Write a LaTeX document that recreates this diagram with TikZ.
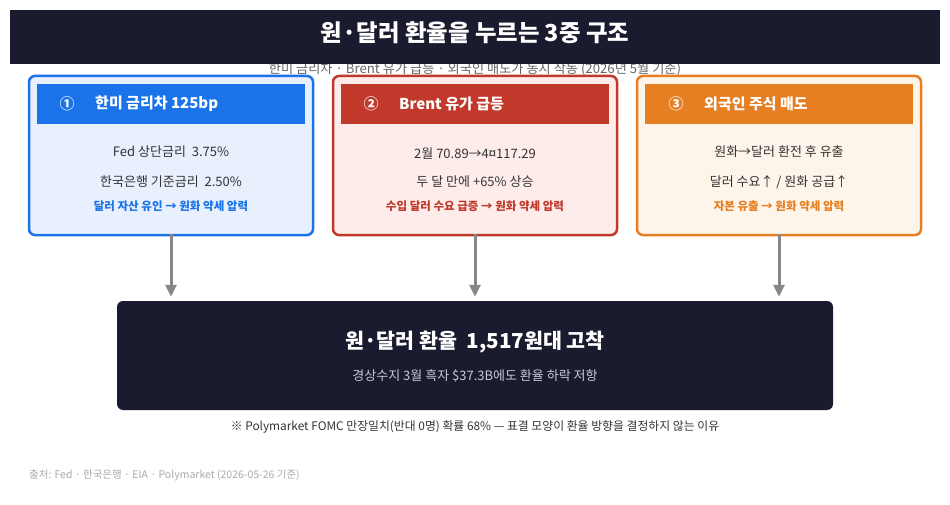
\documentclass[tikz,border=0pt]{standalone}
\usepackage{fontspec}
\setmainfont{Noto Sans CJK KR}
\usetikzlibrary{arrows.meta}
\definecolor{navy}{HTML}{1B1B2F}
\definecolor{cblue}{HTML}{1A73E8}
\definecolor{bgblue}{HTML}{E8F0FE}
\definecolor{cred}{HTML}{C0392B}
\definecolor{bgred}{HTML}{FDECEA}
\definecolor{corange}{HTML}{E67E22}
\definecolor{bgorange}{HTML}{FEF5EA}
\definecolor{bodytxt}{HTML}{333333}
\definecolor{subtxt}{HTML}{666666}
\definecolor{srctxt}{HTML}{AAAAAA}
\definecolor{arrowgray}{HTML}{888888}
\definecolor{mainsub}{HTML}{C8C9D6}
\newcommand{\fsz}[1]{\fontsize{#1pt}{#1pt}\selectfont}
\tikzset{
  panel/.style={line width=2.5pt, rounded corners=6pt, minimum width=284pt, minimum height=159pt, inner sep=0pt},
  headband/.style={minimum width=268pt, minimum height=40pt, inner sep=0pt},
  headnum/.style={text=white, font=\fsz{15}\bfseries, inner sep=0pt},
  headtitle/.style={text=white, font=\fsz{15}\bfseries, anchor=west, inner sep=0pt},
  bodyline/.style={text=bodytxt, font=\fsz{13}, inner sep=0pt},
  keyline/.style={font=\fsz{11.5}\bfseries, inner sep=0pt},
  flowarrow/.style={draw=arrowgray, line width=3pt, -{Triangle[length=12pt,width=11pt]}, shorten >=4pt, shorten <=-2pt}
}
\begin{document}
\begin{tikzpicture}[x=1pt,y=-1pt]
\useasboundingbox (0,0) rectangle (950,505);
\fill[white] (0,0) rectangle (950,505);

% subtitle (partly covered by title bar)
\node (subtitle) [text=subtxt, font=\fsz{13.2}, inner sep=0pt] at (475,69) {한미 금리차 · Brent 유가 급등 · 외국인 매도가 동시 작동 (2026년 5월 기준)};
\node (titlebar) [fill=navy, minimum width=930pt, minimum height=54pt, inner sep=0pt] at (475,37) {};
\node (title) [text=white, font=\fsz{23.4}\bfseries, inner sep=0pt] at (475,33) {원·달러 환율을 누르는 3중 구조};

% panel 1
\node (box1) [panel, draw=cblue, fill=bgblue] at (171,155.5) {};
\node (h1) [headband, fill=cblue] at (171,104) {};
\node (n1) [headnum] at (67,104) {①};
\node (t1) [headtitle] at (95,104) {한미 금리차 125bp};
\node (b1a) [bodyline] at (171,152) {Fed 상단금리\ \ 3.75\%};
\node (b1b) [bodyline] at (171,182) {한국은행 기준금리\ \ 2.50\%};
\node (k1) [keyline, text=cblue] at (171,206) {달러 자산 유인 → 원화 약세 압력};

% panel 2
\node (box2) [panel, draw=cred, fill=bgred] at (475,155.5) {};
\node (h2) [headband, fill=cred] at (475,104) {};
\node (n2) [headnum] at (371,104) {②};
\node (t2) [headtitle] at (399,104) {Brent 유가 급등};
\node (b2a) [bodyline] at (475,154) {2월 70.89→4¤117.29};
\node (b2b) [bodyline] at (475,182) {두 달 만에 +65\% 상승};
\node (k2) [keyline, text=cred] at (475,206) {수입 달러 수요 급증 → 원화 약세 압력};

% panel 3
\node (box3) [panel, draw=corange, fill=bgorange] at (779,155.5) {};
\node (h3) [headband, fill=corange] at (779,104) {};
\node (n3) [headnum] at (676,104) {③};
\node (t3) [headtitle] at (704,104) {외국인 주식 매도};
\node (b3a) [bodyline] at (779,152) {원화→달러 환전 후 유출};
\node (b3b) [bodyline] at (779,182) {달러 수요↑ / 원화 공급↑};
\node (k3) [keyline, text=corange] at (779,206) {자본 유출 → 원화 약세 압력};

% main result box
\node (main) [fill=navy, rounded corners=6pt, minimum width=716pt, minimum height=109pt, inner sep=0pt] at (475,355.5) {};
\node (mtitle) [text=white, font=\fsz{20.6}\bfseries, inner sep=0pt] at (475,342) {원·달러 환율\ \ 1,517원대 고착};
\node (msub) [text=mainsub, font=\fsz{13}, inner sep=0pt] at (475,376) {경상수지 3월 흑자 \$37.3B에도 환율 하락 저항};

% arrows
\draw[flowarrow] (box1.south) -- (box1.south |- main.north);
\draw[flowarrow] (box2.south) -- (box2.south |- main.north);
\draw[flowarrow] (box3.south) -- (box3.south |- main.north);

% notes
\node (note) [text=bodytxt, font=\fsz{11.85}, inner sep=0pt] at (475,427) {※ Polymarket FOMC 만장일치(반대 0명) 확률 68\% — 표결 모양이 환율 방향을 결정하지 않는 이유};
\node (source) [text=srctxt, font=\fsz{10.5}, inner sep=0pt, anchor=west] at (29,475) {출처: Fed · 한국은행 · EIA · Polymarket (2026-05-26 기준)};
\end{tikzpicture}
\end{document}
